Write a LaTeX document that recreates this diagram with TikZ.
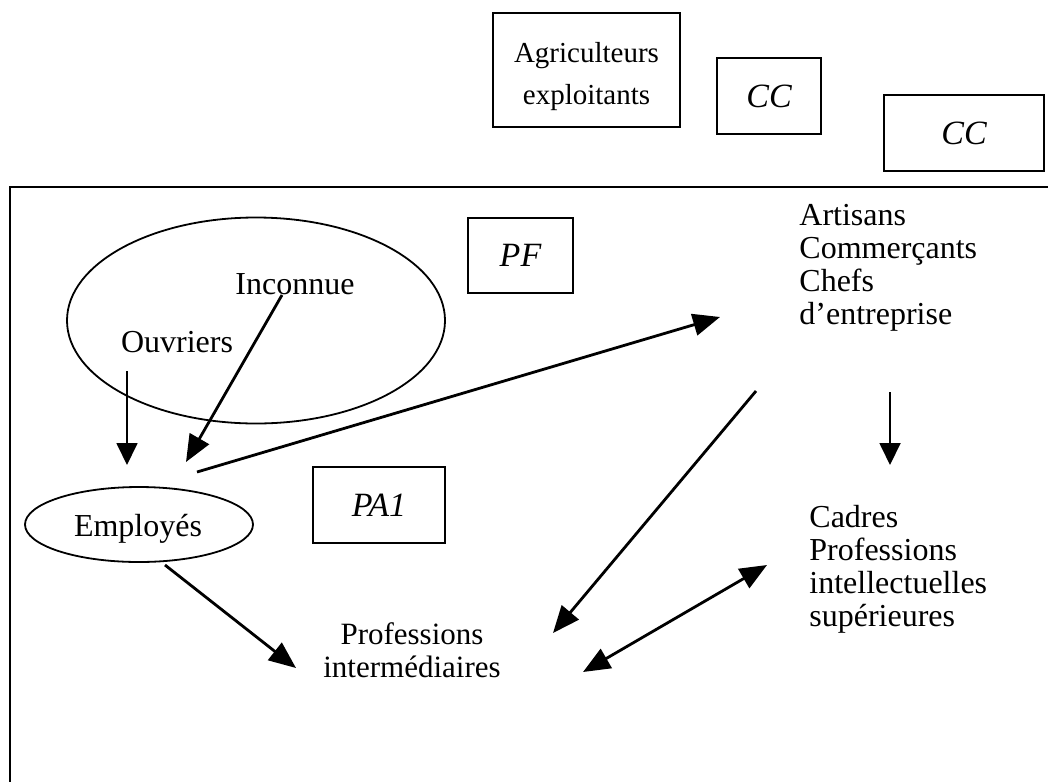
\documentclass[tikz,border=0pt]{standalone}
\usepackage{fontspec}
\setmainfont{Liberation Serif}
\usetikzlibrary{arrows.meta,shapes.geometric}
\begin{document}
\begin{tikzpicture}[x=0.5pt,y=-0.5pt,
  lbl/.style={font=\fontsize{16}{16.5}\selectfont, inner sep=0pt},
  box/.style={draw, line width=0.9pt, inner sep=0pt, font=\fontsize{17}{20}\selectfont\itshape, align=center},
  oval/.style={draw, ellipse, line width=0.9pt, inner sep=0pt},
  bigarr/.style={line width=1.4pt, -{Triangle[length=13.5pt,width=11pt]}},
  thinarr/.style={line width=0.9pt, -{Triangle[length=11pt,width=10.5pt]}},
  dblarr/.style={line width=1.4pt, {Triangle[length=13.5pt,width=11pt]}-{Triangle[length=13.5pt,width=11pt]}}]
\useasboundingbox (0,0) rectangle (1048,782);
\fill[white] (0,0) rectangle (1048,782);

% outer frame (cut by the page on the right and at the bottom)
\draw[line width=1pt] (1048,187) -- (10,187) -- (10,782);

% top boxes
\node[box, minimum width=93.5pt, minimum height=57pt] (agri) at (586.5,70) {};
\node[lbl, font=\fontsize{14.5}{21}\selectfont, align=center] (agritxt) at (586.5,77) {Agriculteurs\\exploitants};
\node[box, minimum width=52pt, minimum height=38pt] (cc1) at (769,96) {CC};
\node[box, minimum width=80pt, minimum height=38pt] (cc2) at (964,133) {CC};

% inner boxes
\node[box, minimum width=52.5pt, minimum height=37.5pt] (pf) at (520.5,255.5) {PF};
\node[box, minimum width=66pt, minimum height=38pt] (pa1) at (379,505) {PA1};

% ellipses
\node[oval, minimum width=189pt, minimum height=103pt] (bigell) at (256,320.5) {};
\node[oval, minimum width=114pt, minimum height=37.5pt] (emp) at (139,524.5) {};
\node[lbl] (emptxt) at (138,529) {Employés};

% labels
\node[lbl] (inc) at (295,284) {Inconnue};
\node[lbl] (ouv) at (177,342) {Ouvriers};
\node[lbl, anchor=west, align=left] (art) at (799,268) {Artisans\\Commerçants\\Chefs\\d’entreprise};
\node[lbl, anchor=west, align=left] (cad) at (809,569) {Cadres\\Professions\\intellectuelles\\supérieures};
\node[lbl, font=\fontsize{15.5}{16.5}\selectfont, align=center] (prof) at (412,650) {Professions\\intermédiaires};

% arrow end points
\coordinate (ouvS) at (127,371);
\coordinate (ouvE) at (127,465);
\coordinate (incS) at (282,295);
\coordinate (incE) at (186,462);
\coordinate (empA) at (197,472);
\coordinate (artW) at (720,317);
\coordinate (empB) at (165,565);
\coordinate (profW) at (296,668);
\coordinate (artS) at (756,391);
\coordinate (profN) at (553,633);
\coordinate (artD) at (890,392);
\coordinate (cadN) at (890,465);
\coordinate (profE) at (583,672);
\coordinate (cadW) at (767,565);

% connectors
\draw[thinarr] (ouvS) -- (ouvE);
\draw[bigarr] (incS) -- (incE);
\draw[bigarr] (empA) -- (artW);
\draw[bigarr] (empB) -- (profW);
\draw[bigarr] (artS) -- (profN);
\draw[thinarr] (artD) -- (cadN);
\draw[dblarr] (profE) -- (cadW);
\end{tikzpicture}
\end{document}
